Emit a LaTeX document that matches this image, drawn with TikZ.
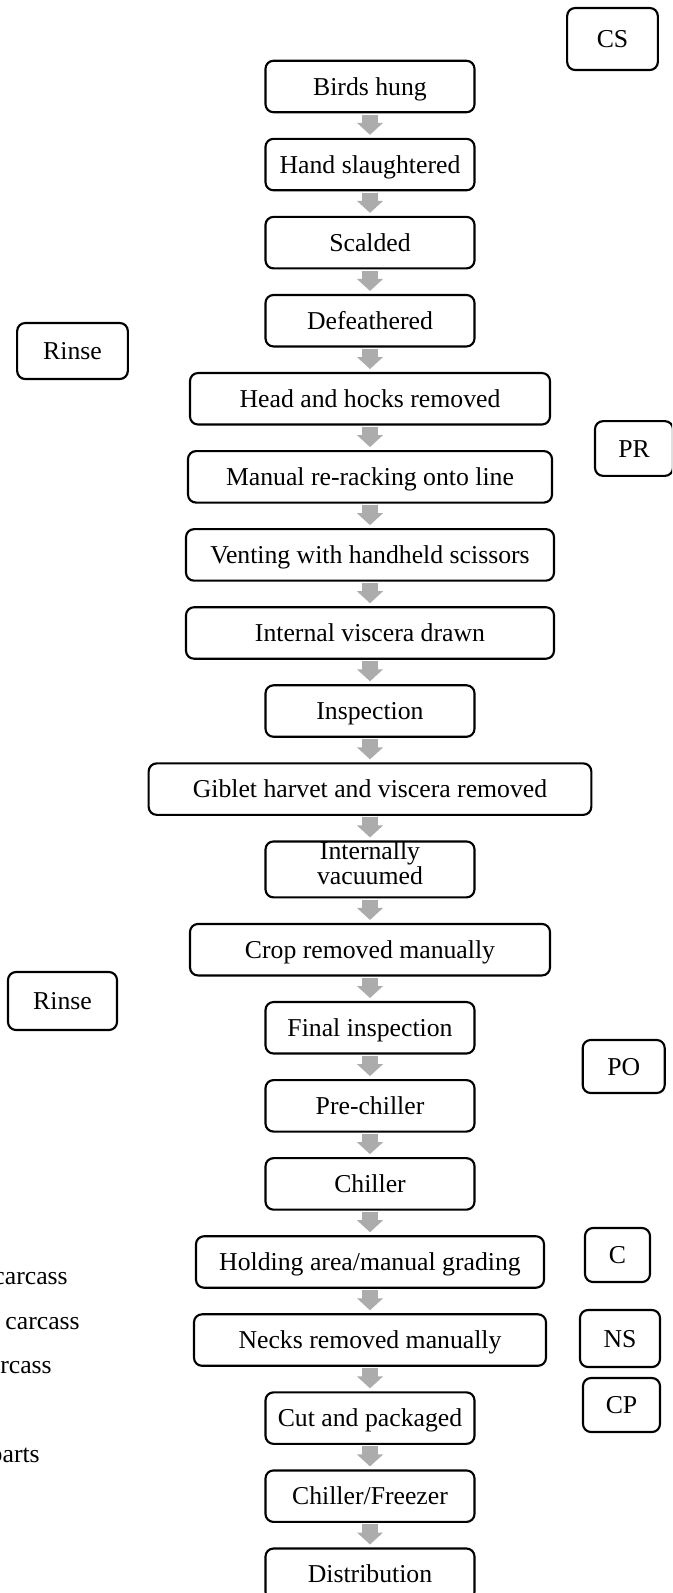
\documentclass[tikz,border=0pt]{standalone}
\usepackage{fontspec}
\setmainfont{Liberation Serif}
\usetikzlibrary{positioning,arrows.meta}

\begin{document}
\begin{tikzpicture}[x=0.75pt,y=-0.75pt,node distance=18.35pt,
    stepbox/.style={draw,rounded corners=6pt,line width=1.6pt,minimum width=156.75pt,minimum height=38.6pt,inner sep=2pt,text height=12.8pt,text depth=0pt,align=center,font=\fontsize{19.3}{15.5}\selectfont},
    tagbox/.style={stepbox,minimum width=0pt,minimum height=0pt},
    flow/.style={color=gray!65,line width=12pt,-{Triangle[width=19pt,length=9pt]},shorten <=1.1pt,shorten >=2.2pt},
    note/.style={anchor=east,inner sep=0pt,font=\fontsize{19.3}{15.5}\selectfont}]

  \useasboundingbox (0,0) rectangle (672,1593);
  \clip (0,0) rectangle (672,1593);

  \node[stepbox]                   (s1)  at (370,86.5)  {Birds hung};
  \node[stepbox]                   (s2)  [below=of s1]  {Hand slaughtered};
  \node[stepbox]                   (s3)  [below=of s2]  {Scalded};
  \node[stepbox]                   (s4)  [below=of s3]  {Defeathered};
  \node[stepbox,minimum width=270pt] (s5)  [below=of s4]  {Head and hocks removed};
  \node[stepbox,minimum width=273pt] (s6)  [below=of s5]  {Manual re-racking onto line};
  \node[stepbox,minimum width=276pt] (s7)  [below=of s6]  {Venting with handheld scissors};
  \node[stepbox,minimum width=276pt] (s8)  [below=of s7]  {Internal viscera drawn};
  \node[stepbox]                   (s9)  [below=of s8]  {Inspection};
  \node[stepbox,minimum width=332pt] (s10) [below=of s9]  {Giblet harvet and viscera removed};
  \node[stepbox,inner sep=0.5pt,text height=,text depth=9pt] (s11) [below=of s10] {Internally\\vacuumed};
  \node[stepbox,minimum width=270pt] (s12) [below=of s11] {Crop removed manually};
  \node[stepbox]                   (s13) [below=of s12] {Final inspection};
  \node[stepbox]                   (s14) [below=of s13] {Pre-chiller};
  \node[stepbox]                   (s15) [below=of s14] {Chiller};
  \node[stepbox,minimum width=261pt] (s16) [below=of s15] {Holding area/manual grading};
  \node[stepbox,minimum width=264pt] (s17) [below=of s16] {Necks removed manually};
  \node[stepbox]                   (s18) [below=of s17] {Cut and packaged};
  \node[stepbox]                   (s19) [below=of s18] {Chiller/Freezer};
  \node[stepbox]                   (s20) [below=of s19] {Distribution};

  \node[tagbox,minimum width=68pt,minimum height=46.5pt]    (cs)     at (612.5,39)    {CS};
  \node[tagbox,minimum width=83pt,minimum height=42pt]      (rinse1) at (72.5,351)    {Rinse};
  \node[tagbox,minimum width=58.5pt,minimum height=41pt]    (pr)     at (634,448.5)   {PR};
  \node[tagbox,minimum width=81.75pt,minimum height=43.5pt] (rinse2) at (62.5,1001)   {Rinse};
  \node[tagbox,minimum width=61.5pt,minimum height=39.75pt] (po)     at (623.7,1066.5) {PO};
  \node[tagbox,minimum width=48.75pt,minimum height=40.5pt] (c)      at (617.5,1255)  {C};
  \node[tagbox,minimum width=60pt,minimum height=42.75pt]   (ns)     at (620,1338.5)  {NS};
  \node[tagbox,minimum width=57.75pt,minimum height=40.5pt] (cp)     at (621.5,1405)  {CP};

  \node[note] (n1) at (68,1279) {carcass};
  \node[note] (n2) at (80,1324) {carcass};
  \node[note] (n3) at (52,1368) {rcass};
  \node[note] (n4) at (40,1458) {parts};

  \path[flow] (s1) edge (s2)
        (s2) edge (s3)
        (s3) edge (s4)
        (s4) edge (s5)
        (s5) edge (s6)
        (s6) edge (s7)
        (s7) edge (s8)
        (s8) edge (s9)
        (s9) edge (s10)
        (s10) edge (s11)
        (s11) edge (s12)
        (s12) edge (s13)
        (s13) edge (s14)
        (s14) edge (s15)
        (s15) edge (s16)
        (s16) edge (s17)
        (s17) edge (s18)
        (s18) edge (s19)
        (s19) edge (s20);

\end{tikzpicture}
\end{document}
